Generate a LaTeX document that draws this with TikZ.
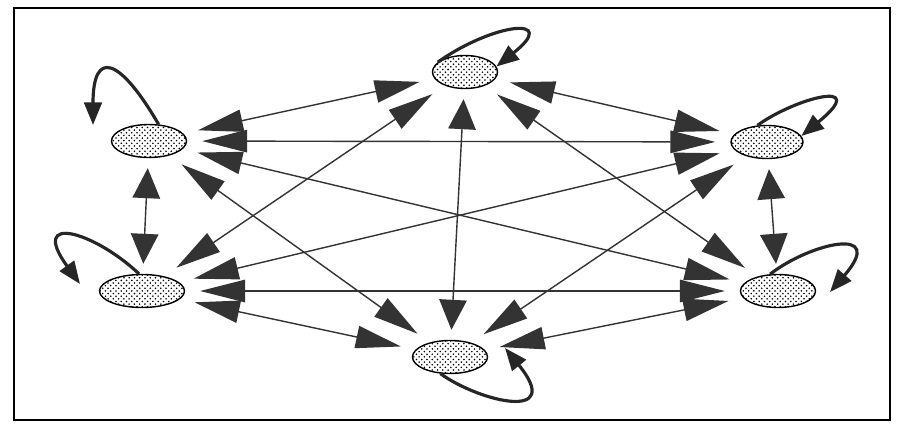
\documentclass[tikz,border=0pt]{standalone}
\usepackage{tikz}
\usetikzlibrary{arrows.meta, shapes.geometric, patterns}

\begin{document}
\begin{tikzpicture}[
        x=0.2mm, y=-0.2mm,
        zustand/.style={ellipse, draw, thick, minimum width=15mm,
                     minimum height=6.6mm, pattern=crosshatch dots,
                     pattern color=black},
        kante/.style={{Triangle[length=9mm, width=4.5mm]}-{Triangle[length=9mm, width=4.5mm]},
                     line width=0.8pt, black!80, shorten <=3mm, shorten >=3mm},
        steil/.style={{Triangle[length=6mm, width=5.5mm]}-{Triangle[length=6mm, width=5.5mm]},
                     shorten <=2mm, shorten >=2mm},
        schleife/.style={-{Triangle[length=4.5mm, width=3.5mm]}, line width=1.8pt, black!85}
      ]
      \useasboundingbox (0,0) rectangle (899,428);
      \draw[line width=1.5pt] (14,8) rectangle (890,420);

      % die sechs Zustaende
      \node[zustand, minimum width=13mm] (t)  at (465,72)  {};
      \node[zustand] (ol) at (149,141) {};
      \node[zustand, minimum width=14.4mm] (or) at (767,142) {};
      \node[zustand, minimum width=17mm] (ul) at (142,291) {};
      \node[zustand] (ur) at (778,291) {};
      \node[zustand] (b)  at (450,357) {};

      % jeder mit jedem
      \draw[kante] (t) -- (ol);
      \draw[kante] (t) -- (or);
      \draw[kante] (t) -- (ul);
      \draw[kante] (t) -- (ur);
      \draw[kante, steil] (t) -- (b);
      \draw[kante] (ol) -- (or);
      \draw[kante, steil] (ol) -- (ul);
      \draw[kante] (ol) -- (ur);
      \draw[kante] (ol) -- (b);
      \draw[kante] (or) -- (ul);
      \draw[kante, steil] (or) -- (ur);
      \draw[kante] (or) -- (b);
      \draw[kante] (ul) -- (ur);
      \draw[kante] (ul) -- (b);
      \draw[kante] (ur) -- (b);

      % Schleifen
      \coordinate (ol-ende) at (93,125);
      \coordinate (ul-ende) at (80,284);
      \coordinate (ur-ende) at (830,292);
      \coordinate (b-ende)  at (505,348);
      \draw[schleife] (t.160) .. controls (495,22) and (560,16) .. (t.10);
      \draw[schleife] (ol.60) .. controls (120,58) and (93,48) .. (ol-ende);
      \draw[schleife] (or.120) .. controls (795,98) and (872,78) .. (or.10);
      \draw[schleife] (ul.100) .. controls (95,232) and (28,212) .. (ul-ende);
      \draw[schleife] (ur.115) .. controls (810,243) and (888,225) .. (ur-ende);
      \draw[schleife] (b.240) .. controls (480,402) and (565,422) .. (b-ende);
    \end{tikzpicture}
\end{document}
